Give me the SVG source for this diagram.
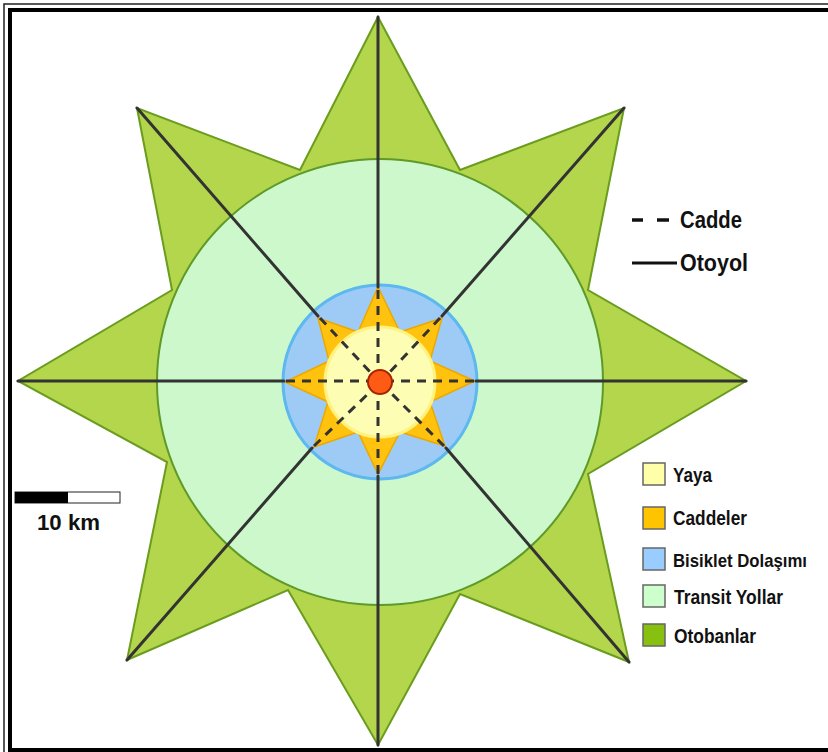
<svg xmlns="http://www.w3.org/2000/svg" width="828" height="752" viewBox="0 0 828 752">
<style>
.road{stroke:#333;stroke-width:3;fill:none;stroke-linecap:round}
.street{stroke:#333;stroke-width:3;fill:none;stroke-dasharray:9 7}
.lbl{font-family:"Liberation Sans",Arial,sans-serif;font-weight:bold;fill:#111}
.box{stroke:#666;stroke-width:1.5}
</style>
<rect x="0" y="0" width="828" height="752" fill="#fff"/>
<g id="frame">
<rect x="4" y="4" width="900" height="900" fill="none" stroke="#222" stroke-width="1.5"/>
<rect x="10" y="10" width="900" height="740" fill="none" stroke="#000" stroke-width="4"/>
</g>
<g id="otobanlar">
<polygon points="378,17 460,170 624,108 588,290 746,381 588,474 629,662 460,594 378,745 288,590 127,660 167,462 18,381 172,290 137,108 300,170" fill="#b3d64c" stroke="#6a9c1e" stroke-width="2" stroke-linejoin="miter"/>
</g>
<g id="transit">
<circle cx="380" cy="382" r="223" fill="#ccf8cc" stroke="#5e9a28" stroke-width="2"/>
</g>
<g id="bisiklet">
<circle cx="380" cy="382" r="97" fill="#9ecbf6" stroke="#5cb8ef" stroke-width="3"/>
</g>
<g id="caddeler">
<polygon points="378,287 400,332 442,318 430,361 475,381 430,402 445,446 400,432 378,474 358,432 314,447 328,402 285,382 329,361 318,318 358,332" fill="#ffc20e" stroke="#eda800" stroke-width="1.5"/>
</g>
<g id="yaya">
<circle cx="380" cy="382" r="55" fill="#fdfdb4" stroke="#fff27e" stroke-width="3"/>
</g>
<g id="connectors">
<line class="road" x1="378" y1="17" x2="378" y2="287"/>
<line class="road" x1="378" y1="745" x2="378" y2="476"/>
<line class="road" x1="18" y1="381" x2="284" y2="381"/>
<line class="road" x1="746" y1="381" x2="476" y2="381"/>
<line class="road" x1="137" y1="108" x2="318" y2="316"/>
<line class="road" x1="624" y1="108" x2="442" y2="316"/>
<line class="road" x1="127" y1="660" x2="312" y2="448"/>
<line class="road" x1="629" y1="662" x2="446" y2="448"/>
<line class="street" x1="378" y1="290" x2="378" y2="370"/>
<line class="street" x1="378" y1="474" x2="378" y2="394"/>
<line class="street" x1="286" y1="381" x2="368" y2="381"/>
<line class="street" x1="474" y1="381" x2="392" y2="381"/>
<line class="street" x1="320" y1="318" x2="372" y2="374"/>
<line class="street" x1="440" y1="318" x2="388" y2="374"/>
<line class="street" x1="314" y1="446" x2="372" y2="390"/>
<line class="street" x1="444" y1="446" x2="388" y2="390"/>
</g>
<g id="center">
<circle cx="380" cy="382" r="12" fill="#ff5b14" stroke="#a82400" stroke-width="2"/>
</g>
<g id="legend-lines">
<line x1="632" y1="220" x2="643" y2="220" stroke="#111" stroke-width="3.5"/>
<line x1="657" y1="220" x2="669" y2="220" stroke="#111" stroke-width="3.5"/>
<text class="lbl" x="680" y="228" font-size="23" textLength="62" lengthAdjust="spacingAndGlyphs">Cadde</text>
<line x1="632" y1="263" x2="677" y2="263" stroke="#111" stroke-width="3"/>
<text class="lbl" x="680" y="271" font-size="23" textLength="68" lengthAdjust="spacingAndGlyphs">Otoyol</text>
</g>
<g id="legend-areas">
<rect class="box" x="643" y="463" width="22" height="22" fill="#ffffaa"/>
<text class="lbl" x="673" y="482" font-size="20" textLength="39" lengthAdjust="spacingAndGlyphs">Yaya</text>
<rect class="box" x="643" y="507" width="22" height="22" fill="#ffc400"/>
<text class="lbl" x="673" y="525" font-size="20" textLength="74" lengthAdjust="spacingAndGlyphs">Caddeler</text>
<rect class="box" x="643" y="548" width="22" height="22" fill="#99ccff"/>
<text class="lbl" x="673" y="567" font-size="19" textLength="134" lengthAdjust="spacingAndGlyphs">Bisiklet Dolaşımı</text>
<rect class="box" x="643" y="585" width="22" height="22" fill="#ccffcc"/>
<text class="lbl" x="674" y="604" font-size="20" textLength="109" lengthAdjust="spacingAndGlyphs">Transit Yollar</text>
<rect class="box" x="643" y="624" width="22" height="22" fill="#88c010"/>
<text class="lbl" x="674" y="643" font-size="20" textLength="82" lengthAdjust="spacingAndGlyphs">Otobanlar</text>
</g>
<g id="scale">
<rect x="15" y="492" width="105" height="11" fill="#fff" stroke="#222" stroke-width="1"/>
<rect x="15" y="492" width="53" height="11" fill="#000"/>
<text class="lbl" x="37" y="530" font-size="22" textLength="63" lengthAdjust="spacingAndGlyphs">10 km</text>
</g>
</svg>
